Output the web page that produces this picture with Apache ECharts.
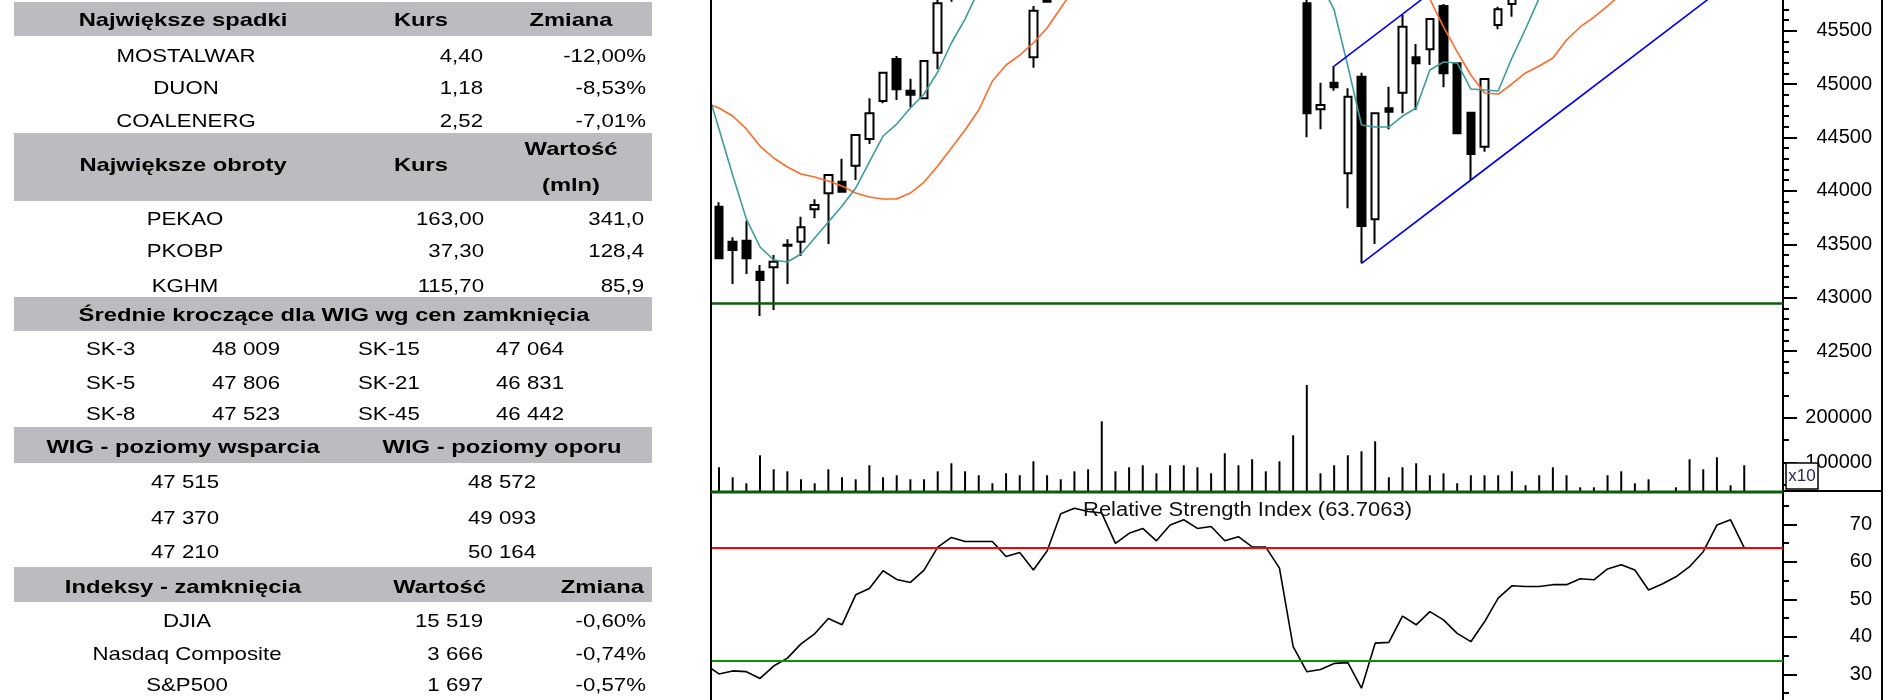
<!DOCTYPE html>
<html><head><meta charset="utf-8">
<script src="https://cdn.jsdelivr.net/npm/echarts@6/dist/echarts.min.js"></script>
<style>html,body{margin:0;padding:0;background:#fff}#c{width:1900px;height:700px}</style>
</head><body><div id="c"></div>
<script>
// ---------------- DATA ----------------
const categories = ['1','2','3','4','5','6','7','8','9','10','11','12','13','14','15','16','17','18','19','20','21','22','23','24','25','26','27','28','29','30','31','32','33','34','35','36','37','38','39','40','41','42','43','44','45','46','47','48','49','50','51','52','53','54','55','56','57','58','59','60','61','62','63','64','65','66','67','68','69','70','71','72','73','74','75','76','77','78'];
const opens  = [43852,43524,43534,43243,43285,43487,43524,43828,43977,44086,44236,44486,44842,45235,44938,44867,45294,45850,46000,46180,46150,46170,45950,45251,46050,45900,46600,46800,46780,46760,46400,46550,46650,46480,46750,46880,46780,46820,46620,46700,46560,46555,46250,45756,44764,45013,44165,45069,43734,44773,44919,45251,45326,45731,45195,44732,44414,45553,45750,46200,46180,46190,46260,46270,46420,46390,46650,46780,46690,46350,46500,46700,47000,47450,48050,48200];
const closes = [43369,43447,43369,43166,43337,43495,43659,43868,44149,43993,44523,44727,45107,44951,44901,45216,45756,45990,46180,46150,46170,45950,46020,45687,45771,46600,46800,46780,46760,46400,46550,46650,46480,46750,46880,46780,46820,46620,46700,46560,46555,46250,45850,44726,44804,44970,44882,43671,44726,44742,45537,45195,45609,45101,44539,44345,45048,45700,46200,46180,46190,46260,46270,46420,46390,46650,46780,46690,46350,46500,46700,47000,47450,48050,48200,47780];
const lows   = [43369,43128,43222,42829,42885,43128,43390,43743,43503,43983,44102,44439,44820,44851,44783,44858,45139,45770,45950,46050,46060,45880,45900,45153,45771,45880,46550,46700,46650,46350,46320,46480,46420,46450,46700,46720,46700,46580,46550,46500,46450,46200,45810,44502,44577,44938,43837,43322,43503,44577,44726,44757,45179,44970,44539,44102,44367,45513,45631,46080,46100,46120,46180,46220,46300,46350,46600,46620,46300,46280,46450,46650,46950,47400,47950,47700];
const highs  = [43893,43566,43721,43306,43400,43547,43758,43921,44149,44301,44523,44867,45107,45263,45050,45216,45820,46050,46250,46300,46260,46200,46100,45731,46120,46650,46850,46900,46880,46800,46600,46720,46700,46800,46950,46920,46900,46850,46760,46740,46650,46600,46300,45830,45013,45169,44961,45107,44726,44976,45647,45375,45609,45750,45195,44732,45048,45725,46280,46300,46280,46330,46350,46480,46500,46700,46850,46820,46720,46560,46750,47050,47500,48100,48300,48250];
const volumes = [88800,66400,52900,115700,84300,79800,61900,52900,84300,66400,61900,93300,66400,70900,61900,61900,79800,97800,79800,70900,52900,75300,70900,102200,70900,61900,79800,84300,191900,79800,88800,93300,75300,93300,93300,88800,75300,120200,93300,106700,79800,102200,160500,273300,75300,93300,115700,124700,147100,66400,88800,97800,70900,75300,52900,70900,70900,70900,79800,48400,70900,88800,70900,43900,43900,70900,79800,52900,61900,34000,43900,106700,84300,111200,48400,93300];
// series below start one session before the first candle (index -1)
const maFast = [45001,44580,44149,43737,43475,43353,43334,43409,43559,43709,43859,44027,44271,44514,44626,44776,44907,45113,45385,45609,45880,46050,46090,46090,46000,45920,46010,46180,46330,46540,46670,46660,46630,46570,46570,46660,46710,46740,46770,46760,46700,46650,46540,46380,46150,45950,45694,45169,44617,44598,44598,44701,44776,45132,45207,45198,44954,44945,44935,45244,45516,45806,46110,46220,46264,46306,46398,46502,46586,46572,46594,46604,46648,46800,47140,47480,47696];
const maSlow = [44823,44776,44701,44580,44420,44308,44224,44158,44130,44093,44046,43980,43943,43924,43924,43980,44083,44233,44402,44570,44757,45029,45179,45272,45385,45525,45712,45900,46050,46180,46280,46360,46430,46480,46530,46580,46620,46650,46670,46690,46690,46680,46650,46580,46480,46380,46300,46250,46200,46150,46100,46050,45950,45797,45535,45301,45085,44917,44907,45001,45104,45169,45244,45413,45535,45628,45731,45844,45950,46030,46100,46180,46260,46350,46450,46550,46620];
const rsiValues = [32.6,30.1,30.9,30.7,28.9,32.2,34.3,38.1,40.8,44.9,43.2,51.2,52.9,57.6,55.3,54.5,57.8,63.9,66.5,65.4,65.4,65.4,61.4,62.5,57.8,62.9,72.8,74.3,73.4,73.0,64.9,67.6,68.9,65.6,69.8,71.2,68.9,69.4,65.6,66.7,64.0,63.9,58.3,37.4,30.7,31.3,32.9,33.1,26.3,38.3,38.5,45.5,43.2,46.7,44.5,40.9,38.7,44.0,50.3,53.6,53.4,53.4,53.9,53.9,55.5,55.2,58.1,59.2,57.8,52.5,54.1,56.0,58.7,62.7,69.8,71.2,63.7063];
const channelLower = [[47, 43322], [55, 44102], [78, 46345]];
const channelUpper = [[45, 45169], [50, 45656], [78, 48387]];
const supportLevel = 42945;
const rsiCurrent = 63.7063;
const rsiLow = 33.6;
const priceTickLabels = [42500,43000,43500,44000,44500,45000,45500];
const volumeTickLabels = [100000,200000];
const volumeMinorTicks = [50000,150000,250000];
const rsiTickLabels = [30,40,50,60,70];
const rsiMinorTicks = [25,35,45,55,65,75];

const tblSpadki = [['MOSTALWAR','4,40','-12,00%'],['DUON','1,18','-8,53%'],['COALENERG','2,52','-7,01%']];
const tblObroty = [['PEKAO','163,00','341,0'],['PKOBP','37,30','128,4'],['KGHM','115,70','85,9']];
const tblSrednie = [['SK-3','48 009','SK-15','47 064'],['SK-5','47 806','SK-21','46 831'],['SK-8','47 523','SK-45','46 442']];
const tblPoziomy = [['47 515','48 572'],['47 370','49 093'],['47 210','50 164']];
const tblIndeksy = [['DJIA','15 519','-0,60%'],['Nasdaq Composite','3 666','-0,74%'],['S&P500','1 697','-0,57%']];

// ---------------- LAYOUT ----------------
const FONT = "'Liberation Sans', Arial, sans-serif";
const Y43000 = 297.7, PX_PER_PT = 0.1068, P_MIN = 42000;
const P_MAX = 43000 + Y43000 / PX_PER_PT;          // value at the top edge of the picture
const priceHeight = (P_MAX - P_MIN) * PX_PER_PT;
const BAND = 13.67, FIRST_X = 719;
const plotL = 711, plotR = 1783;
const XMIN = (plotL - FIRST_X) / BAND, XMAX = (plotR - FIRST_X) / BAND;
const catLeft = FIRST_X - BAND / 2, catWidth = BAND * categories.length;
const VOL_MIN = 33400, VOL_MAX = 450400;
const RSI_PX = 3.75, RSI_TOP = 492, RSI_MAX = 78.613;
const RSI_MIN = RSI_MAX - (700 - RSI_TOP) / RSI_PX;

const priceMinorTicks = [];
for (let v = 42300; v <= 45700; v += 100) if (v % 500 !== 0) priceMinorTicks.push(v);

const candleData = opens.map((o, i) => [o, closes[i], lows[i], highs[i]]);
const withIndex = arr => arr.map((v, i) => [i - 1, v]);

function label(o) { return Object.assign({ color: '#000', fontSize: 20, fontFamily: FONT, margin: 89, align: 'right' }, o || {}); }
function rightAxis(grid, min, max, majors, labels, offset) {
  return {
    type: 'value', gridIndex: grid, min: min, max: max, position: 'right', offset: offset || 0,
    axisLine: { show: true, onZero: false, lineStyle: { color: '#000', width: 2 } },
    axisTick: { show: true, length: 14, customValues: majors, lineStyle: { color: '#000', width: 2 } },
    axisLabel: label({ customValues: labels, formatter: v => String(v) }),
    splitLine: { show: false }
  };
}
function minorAxis(grid, min, max, ticks, offset) {
  return {
    type: 'value', gridIndex: grid, min: min, max: max, position: 'right', offset: offset || 0,
    axisLine: { show: false, onZero: false },
    axisTick: { show: true, length: 6, customValues: ticks, lineStyle: { color: '#000', width: 2 } },
    axisLabel: { show: false }, splitLine: { show: false }
  };
}

// table graphics
const G = [];
function band(y, h) { G.push({ type: 'rect', shape: { x: 14, y: y, width: 638, height: h }, style: { fill: '#bcbcc0' }, z: 1 }); }
function txt(text, x, y, align, bold) {
  G.push({ type: 'text', x: x, y: y, scaleX: bold ? 1.25 : 1.17, z: 10,
    style: { text: text, x: 0, y: 0, fill: '#000', fontSize: 19, fontFamily: FONT, fontWeight: bold ? 'bold' : 'normal',
      textAlign: align, textVerticalAlign: 'middle', align: align, verticalAlign: 'middle' } });
}
band(2, 34); band(133, 68); band(297, 34); band(427, 36); band(567, 35);
txt('Największe spadki', 183, 21, 'center', true); txt('Kurs', 421, 21, 'center', true); txt('Zmiana', 571, 21, 'center', true);
[56.7, 88.5, 121.5].forEach((y, r) => { txt(tblSpadki[r][0], 186, y, 'center'); txt(tblSpadki[r][1], 483, y, 'right'); txt(tblSpadki[r][2], 646, y, 'right'); });
txt('Największe obroty', 183, 166, 'center', true); txt('Kurs', 421, 166, 'center', true);
txt('Wartość', 571, 150, 'center', true); txt('(mln)', 571, 186, 'center', true);
[220, 252, 286.5].forEach((y, r) => { txt(tblObroty[r][0], 185, y, 'center'); txt(tblObroty[r][1], 484, y, 'right'); txt(tblObroty[r][2], 644, y, 'right'); });
txt('Średnie kroczące dla WIG wg cen zamknięcia', 334, 316, 'center', true);
[350, 384, 415].forEach((y, r) => { txt(tblSrednie[r][0], 86, y, 'left'); txt(tblSrednie[r][1], 212, y, 'left'); txt(tblSrednie[r][2], 358, y, 'left'); txt(tblSrednie[r][3], 496, y, 'left'); });
txt('WIG - poziomy wsparcia', 183, 448, 'center', true); txt('WIG - poziomy oporu', 502, 448, 'center', true);
[483, 519, 553].forEach((y, r) => { txt(tblPoziomy[r][0], 185, y, 'center'); txt(tblPoziomy[r][1], 502, y, 'center'); });
txt('Indeksy - zamknięcia', 183, 588, 'center', true); txt('Wartość', 486, 588, 'right', true); txt('Zmiana', 644, 588, 'right', true);
[621.5, 655, 686].forEach((y, r) => { txt(tblIndeksy[r][0], 187, y, 'center'); txt(tblIndeksy[r][1], 483, y, 'right'); txt(tblIndeksy[r][2], 646, y, 'right'); });

// frame
G.push({ type: 'line', shape: { x1: 711, y1: 0, x2: 711, y2: 700 }, style: { stroke: '#000', lineWidth: 2 }, z: 20 });
G.push({ type: 'line', shape: { x1: 1882, y1: 0, x2: 1882, y2: 700 }, style: { stroke: '#000', lineWidth: 2 }, z: 20 });
G.push({ type: 'line', shape: { x1: 711, y1: 492, x2: 1783, y2: 492 }, style: { stroke: '#0b5d0b', lineWidth: 3 }, z: 20 });
G.push({ type: 'line', shape: { x1: 1783, y1: 491, x2: 1882, y2: 491 }, style: { stroke: '#000', lineWidth: 2 }, z: 20 });
G.push({ type: 'rect', shape: { x: 1786, y: 463, width: 32, height: 26 }, style: { fill: '#fff', stroke: '#000', lineWidth: 1.5 }, z: 30 });
G.push({ type: 'text', x: 1802, y: 476, z: 31, style: { text: 'x10', x: 0, y: 0, fill: '#2a2a5a', fontSize: 17, fontFamily: FONT, textAlign: 'center', textVerticalAlign: 'middle', align: 'center', verticalAlign: 'middle' } });
G.push({ type: 'text', x: 1083, y: 510, scaleX: 1.1, z: 31, style: { text: 'Relative Strength Index (' + rsiCurrent + ')', x: 0, y: 0, fill: '#111', fontSize: 20, fontFamily: FONT, textAlign: 'left', textVerticalAlign: 'middle', align: 'left', verticalAlign: 'middle' } });

const chart = echarts.init(document.getElementById('c'));
chart.setOption({
  animation: false,
  backgroundColor: '#fff',
  grid: [
    { left: catLeft, width: catWidth, top: 0, height: priceHeight },
    { left: plotL, width: plotR - plotL, top: 0, height: priceHeight },
    { left: catLeft, width: catWidth, top: 306, height: 186 },
    { left: plotL, width: plotR - plotL, top: RSI_TOP, height: 700 - RSI_TOP }
  ],
  xAxis: [
    { type: 'category', gridIndex: 0, data: categories, show: false },
    { type: 'value', gridIndex: 1, min: XMIN, max: XMAX, show: false },
    { type: 'category', gridIndex: 2, data: categories, show: false },
    { type: 'value', gridIndex: 3, min: XMIN, max: XMAX, show: false }
  ],
  yAxis: [
    { type: 'value', gridIndex: 0, min: P_MIN, max: P_MAX, show: false },
    rightAxis(1, P_MIN, P_MAX, priceTickLabels, priceTickLabels, 0),
    minorAxis(1, P_MIN, P_MAX, priceMinorTicks, 0),
    rightAxis(2, VOL_MIN, VOL_MAX, volumeTickLabels, volumeTickLabels, plotR - (catLeft + catWidth)),
    minorAxis(2, VOL_MIN, VOL_MAX, volumeMinorTicks, plotR - (catLeft + catWidth)),
    rightAxis(3, RSI_MIN, RSI_MAX, rsiTickLabels, rsiTickLabels, 0),
    minorAxis(3, RSI_MIN, RSI_MAX, rsiMinorTicks, 0)
  ],
  series: [
    { type: 'candlestick', xAxisIndex: 0, yAxisIndex: 0, data: candleData, barWidth: 8, clip: true,
      itemStyle: { color: '#ffffff', color0: '#000000', borderColor: '#000000', borderColor0: '#000000', borderColorDoji: '#000000', borderWidth: 2 } },
    { type: 'line', xAxisIndex: 1, yAxisIndex: 1, data: withIndex(maSlow), showSymbol: false, symbol: 'none', clip: true,
      lineStyle: { color: '#ff6a2a', width: 1.6 } },
    { type: 'line', xAxisIndex: 1, yAxisIndex: 1, data: withIndex(maFast), showSymbol: false, symbol: 'none', clip: true,
      lineStyle: { color: '#3e9c9c', width: 1.6 },
      markLine: { silent: true, symbol: 'none', label: { show: false }, lineStyle: { color: '#0b5d0b', width: 2.5, type: 'solid' }, data: [{ yAxis: supportLevel }] } },
    { type: 'line', xAxisIndex: 1, yAxisIndex: 1, data: channelLower, showSymbol: false, symbol: 'none', clip: true, lineStyle: { color: '#0000ff', width: 1.6 } },
    { type: 'line', xAxisIndex: 1, yAxisIndex: 1, data: channelUpper, showSymbol: false, symbol: 'none', clip: true, lineStyle: { color: '#0000ff', width: 1.6 } },
    { type: 'bar', xAxisIndex: 2, yAxisIndex: 3, data: volumes, barWidth: 2, itemStyle: { color: '#000' } },
    { type: 'line', xAxisIndex: 3, yAxisIndex: 5, data: withIndex(rsiValues), showSymbol: false, symbol: 'none', clip: true,
      lineStyle: { color: '#000', width: 1.6 },
      markLine: { silent: true, symbol: 'none', label: { show: false }, data: [
        { yAxis: rsiCurrent, lineStyle: { color: '#ff0000', width: 2, type: 'solid' } },
        { yAxis: rsiLow, lineStyle: { color: '#009a00', width: 2, type: 'solid' } }
      ] } }
  ],
  graphic: G
});
</script></body></html>
